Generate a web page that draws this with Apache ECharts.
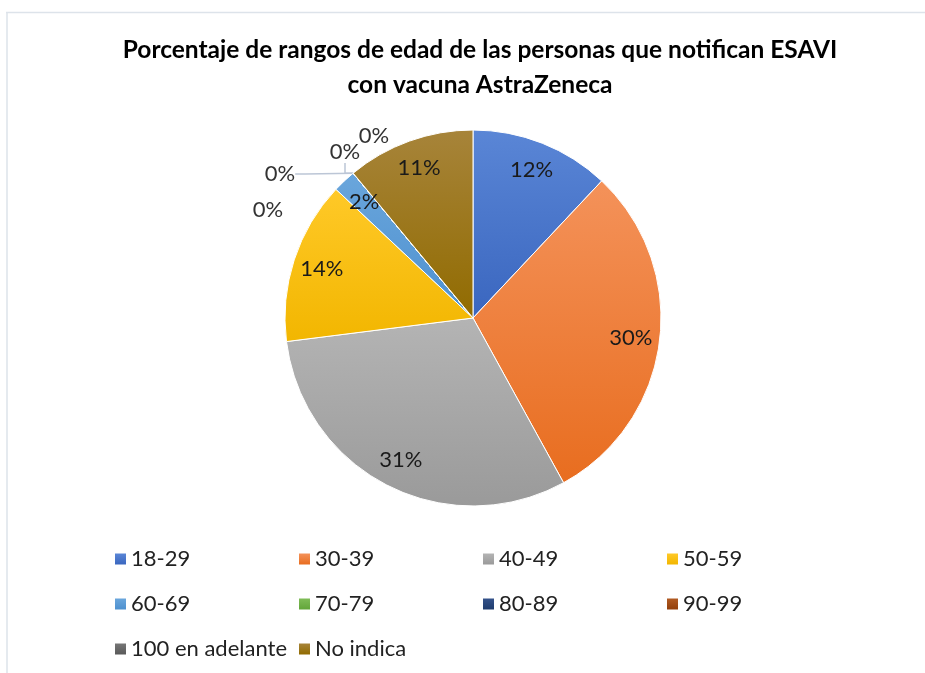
<!DOCTYPE html>
<html>
<head>
<meta charset="utf-8">
<script src="https://cdn.jsdelivr.net/npm/echarts@6/dist/echarts.min.js"></script>
<style>
  html, body { margin: 0; padding: 0; background: #fff; }
  #chart { width: 925px; height: 673px; }
</style>
</head>
<body>
<div id="chart"></div>
<script>
// rangos de edad y porcentajes
const categories = ['18-29', '30-39', '40-49', '50-59', '60-69', '70-79', '80-89', '90-99', '100 en adelante', 'No indica']
const values = [12, 30, 31, 14, 2, 0, 0, 0, 0, 11]

// colores (claro arriba, oscuro abajo)
const topColors = ['#5a86d6', '#f4925a', '#b4b4b4', '#ffc928', '#6aa6dc', '#7fbc57', '#34528a', '#b15a22', '#767676', '#a7843a']
const bottomColors = ['#3a66bf', '#e86d1f', '#9a9a9a', '#f2b600', '#4d90cf', '#62a53a', '#1f3c6e', '#923f0a', '#595959', '#916b00']

// posiciones de las etiquetas de 0% (como en el original)
const zeroLabelPos = { 5: [268, 210], 6: [280, 174], 7: [345, 152], 8: [374, 136] }

const chart = echarts.init(document.getElementById('chart'))

const grad = (i) => new echarts.graphic.LinearGradient(0, 0, 0, 1, [
  { offset: 0, color: topColors[i] },
  { offset: 1, color: bottomColors[i] }
])

const mainData = categories.map((name, i) => ({
  name,
  value: values[i],
  itemStyle: { color: grad(i) },
  label: { show: values[i] === 0 },
  labelLine: { show: i === 6 || i === 7 }
}))

const labelData = categories.map((name, i) => ({
  name,
  value: values[i],
  label: { show: values[i] !== 0 }
}))

const font = 'Lato, "Open Sans", sans-serif'

chart.setOption({
  animation: false,
  title: {
    text: 'Porcentaje de rangos de edad de las personas que notifican ESAVI\ncon vacuna AstraZeneca',
    left: 475,
    textAlign: 'center',
    top: 28,
    textStyle: { fontFamily: font, fontWeight: 'bold', fontSize: 24.5, lineHeight: 35, color: '#000' }
  },
  legend: {
    left: 110,
    top: 536,
    width: 760,
    itemWidth: 11,
    itemHeight: 11,
    itemGap: 9,
    icon: 'rect',
    itemStyle: { borderWidth: 0 },
    data: categories,
    textStyle: { fontFamily: font, fontSize: 22, color: '#222', width: 159, lineHeight: 36 }
  },
  graphic: [
    { type: 'line', shape: { x1: 6, y1: 12.5, x2: 925, y2: 12.5 }, style: { stroke: '#dde3ea', lineWidth: 1.5 } },
    { type: 'line', shape: { x1: 7, y1: 12, x2: 7, y2: 673 }, style: { stroke: '#dde3ea', lineWidth: 1.5 } }
  ],
  series: [
    {
      name: 'main',
      type: 'pie',
      center: [473, 318],
      radius: 188,
      startAngle: 90,
      clockwise: true,
      avoidLabelOverlap: false,
      itemStyle: { borderColor: '#fff', borderWidth: 1 },
      emphasis: { disabled: true },
      label: {
        position: 'outside',
        formatter: '{d}%',
        fontFamily: font,
        fontSize: 22,
        color: '#333'
      },
      labelLine: { length: 10, length2: 10, lineStyle: { color: '#bcc6d6', width: 1.5 } },
      labelLayout: (p) => {
        const pos = zeroLabelPos[p.dataIndex]
        if (!pos) return {}
        return { x: pos[0], y: pos[1], align: 'center', verticalAlign: 'middle' }
      },
      data: mainData
    },
    {
      name: 'labels',
      type: 'pie',
      center: [473, 318],
      radius: [124, 188],
      startAngle: 90,
      clockwise: true,
      silent: true,
      itemStyle: { color: 'rgba(0,0,0,0)' },
      emphasis: { disabled: true },
      label: {
        position: 'inside',
        formatter: '{d}%',
        fontFamily: font,
        fontSize: 22,
        color: '#1a1a1a'
      },
      labelLine: { show: false },
      data: labelData
    }
  ]
})
</script>
</body>
</html>
